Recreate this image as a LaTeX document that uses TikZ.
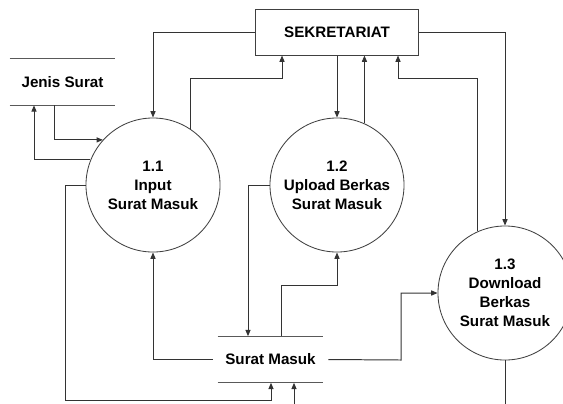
\documentclass[tikz,border=0pt]{standalone}
\usepackage{fontspec}
\setmainfont{Liberation Sans}
\usetikzlibrary{calc,arrows.meta}

\tikzset{
	dfdfont/.style={font=\bfseries\fontsize{10.8}{13.5}\selectfont},
	proc/.style={dfdfont, circle, draw=black!75, line width=0.6pt, minimum size=3.35cm, inner sep=0pt, align=center},
	ent/.style={dfdfont, draw=black!75, line width=0.7pt, minimum width=4.05cm, minimum height=1.15cm},
	store/.style={dfdfont, minimum height=1.15cm, inner sep=0pt},
	storeline/.style={draw=black!65, line width=0.9pt},
	flow/.style={draw=black!80, line width=0.7pt, -{Triangle[length=4.5pt,width=3.6pt]}},
	flowend/.style={draw=black!80, line width=0.7pt}
}

\begin{document}
\begin{tikzpicture}[x=0.025cm,y=-0.025cm]
	
	\useasboundingbox (0,0) rectangle (563,403);
	
	%entity and stores
	\node[ent] (sek) at (337,32) {SEKRETARIAT};
	\node[store, minimum width=2.625cm] (js) at (62.5,82) {Jenis Surat};
	\node[store, minimum width=2.875cm] (sm) at (270.5,359.5) {Surat Masuk};
	\draw[storeline] (js.north west) -- (js.north east);
	\draw[storeline] (js.south west) -- (js.south east);
	\draw[storeline] ($(sm.north west)+(5,0)$) -- ($(sm.north east)+(-5,0)$);
	\draw[storeline] ($(sm.south west)+(5,0)$) -- ($(sm.south east)+(-5,0)$);
	
	%processes
	\node[proc] (p11) at (153,185) {1.1\\Input\\Surat Masuk};
	\node[proc] (p12) at (337,185) {1.2\\Upload Berkas\\Surat Masuk};
	\node[proc] (p13) at (505,293) {1.3\\Download\\Berkas\\Surat Masuk};
	
	%flows round 1.1
	\draw[flow] (sek.west) -| (p11.north);
	\draw[flow] (p11.56) |- (282,78) -- (sek.south -| 282,0);
	\draw[flow] (js.south -| 54,0) |- (p11.138);
	\draw[flow] (p11.158) -| (js.south -| 34,0);
	\draw[flow] (p11.west) -| (65,400) -| (sm.south -| 271,0);
	\draw[flow] (sm.west) -| (p11.south);
	
	%flows round 1.2
	\draw[flow] (sek.south) -- (p12.north);
	\draw[flow] (p12.66) -- (p12.66 |- sek.south);
	\draw[flow] (p12.west) -| (sm.north -| 248,0);
	\draw[flow] (sm.north -| 281,0) |- (p12.south |- 0,285) -- (p12.south);
	
	%flows round 1.3
	\draw[flow] (sek.east) -| (p13.north);
	\draw[flow] (p13.114) |- (398,78) -- (sek.south -| 398,0);
	\draw[flow] (sm.east) -- (401,360) |- (p13.west);
	\draw[flowend] (p13.south) -- (505,410);
	\draw[flow] (294,410) -- (sm.south -| 294,0);
	
\end{tikzpicture}
\end{document}
